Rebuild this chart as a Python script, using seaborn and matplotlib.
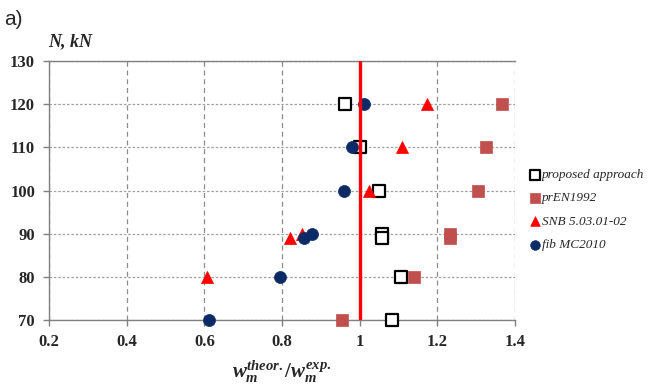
import matplotlib
matplotlib.use("Agg")
import matplotlib.pyplot as plt
import seaborn as sns

# ----------------------------------------------------------------------
# Data (ratio w_theor / w_exp vs N, kN)
# ----------------------------------------------------------------------
proposed_x = [0.962, 1.00, 1.049, 1.057, 1.057, 1.106, 1.083]
proposed_n = [120, 110, 100, 90, 89, 80, 70]

pren_x = [1.366, 1.325, 1.304, 1.232, 1.232, 1.140, 0.955]
pren_n = [120, 110, 100, 90, 89, 80, 70]

snb_x = [1.173, 1.109, 1.024, 0.851, 0.820, 0.607]
snb_n = [120, 110, 100, 90, 89, 80]

fib_x = [1.011, 0.980, 0.959, 0.877, 0.856, 0.795, 0.612]
fib_n = [120, 110, 100, 90, 89, 80, 70]

x_ticks = [0.2, 0.4, 0.6, 0.8, 1.0, 1.2, 1.4]
x_tick_labels = ["0.2", "0.4", "0.6", "0.8", "1", "1.2", "1.4"]
y_ticks = [70, 80, 90, 100, 110, 120, 130]

sns.set_style("white")
plt.rcParams["mathtext.fontset"] = "custom"
plt.rcParams["mathtext.it"] = "Liberation Serif:italic:bold"
plt.rcParams["mathtext.rm"] = "Liberation Serif:bold"

fig = plt.figure(figsize=(6.48, 3.89), dpi=100)
ax = fig.add_axes([0.0756, 0.1774, 0.7192, 0.6656])

common = dict(ax=ax, s=75, zorder=3, clip_on=False)
sns.scatterplot(x=proposed_x, y=proposed_n, marker="s",
                color="white", edgecolor="black", linewidth=1.6,
                label="proposed approach", **common)
sns.scatterplot(x=pren_x, y=pren_n, marker="s",
                color="#C0504D", edgecolor="#C0504D", linewidth=0.5,
                label="prEN1992", **common)
sns.scatterplot(x=snb_x, y=snb_n, marker="^",
                color="#FF0000", edgecolor="#FF0000", linewidth=0.5,
                label="SNB 5.03.01-02", **common)
sns.scatterplot(x=fib_x, y=fib_n, marker="o",
                color="#0B2A66", edgecolor="#0B2A66", linewidth=0.5,
                label="fib MC2010", **common)

ax.axvline(1.0, color="#FF0000", linewidth=2.4, zorder=4)

ax.set_xlim(0.2, 1.4)
ax.set_ylim(70, 130)
ax.set_xticks(x_ticks)
ax.set_xticklabels(x_tick_labels)
ax.set_yticks(y_ticks)

ax.grid(True, axis="x", color="#8C8C8C", linestyle=(0, (4, 3)), linewidth=0.9)
ax.grid(True, axis="y", color="#A0A0A0", linestyle=(0, (2, 1.5)), linewidth=0.9)
ax.set_axisbelow(True)

for side in ["left", "bottom", "top"]:
    ax.spines[side].set_visible(True)
    ax.spines[side].set_color("#808080")
    ax.spines[side].set_linewidth(1.0)
ax.spines["right"].set_visible(False)

ax.tick_params(axis="both", direction="out", length=4, color="#808080",
               width=1.0, pad=6, bottom=True, left=True)
for lab in ax.get_xticklabels() + ax.get_yticklabels():
    lab.set_fontfamily("Liberation Serif")
    lab.set_fontweight("bold")
    lab.set_fontsize(12)

ax.set_xlabel(r"$w_m^{theor.}/w_m^{exp.}$", fontsize=15, labelpad=6)

fig.text(0.074, 0.892, "N, kN", family="Liberation Serif", weight="bold",
         style="italic", fontsize=13, va="center", ha="left")
fig.text(0.006, 0.949, "a)", family="Liberation Sans", fontsize=15,
         va="center", ha="left")

ax.get_legend().remove()
handles, labels = ax.get_legend_handles_labels()
fig.legend(handles, labels, loc="center left", bbox_to_anchor=(0.808, 0.46),
           frameon=False, prop={"family": "Liberation Serif", "style": "italic",
                                "size": 9.5},
           handletextpad=0.0, handlelength=1.0, labelspacing=0.85,
           markerscale=0.8, borderaxespad=0)

fig.savefig("out.png", dpi=100)
